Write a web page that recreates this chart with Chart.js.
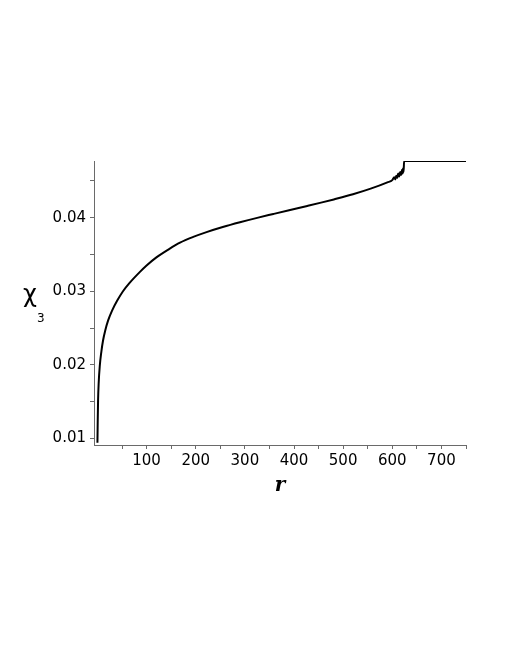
<!DOCTYPE html>
<html>
<head>
<meta charset="utf-8">
<script src="https://cdn.jsdelivr.net/npm/chart.js@4/dist/chart.umd.min.js"></script>
<style>
  html, body { margin: 0; padding: 0; background: #fff; }
  #wrap { width: 505px; height: 654px; position: relative; }
</style>
</head>
<body>
<div id="wrap"><canvas id="chart"></canvas></div>
<script>
// r values
const rValues = [0, 0.6, 1.3, 2.5, 4.7, 8, 11.4, 16, 21.6, 30, 40, 52, 65, 86, 100, 120, 145, 168, 195, 222, 255, 290, 325, 358, 390, 427, 455, 481, 520, 556, 590,
  600, 604, 606, 608, 610, 612, 614, 616, 618, 620, 621, 622, 623, 624, 750];
// chi_3 values
const chiValues = [0.0094, 0.0125, 0.0152, 0.0175, 0.0198, 0.0218, 0.0233, 0.0247, 0.0260, 0.0274, 0.0287, 0.0300, 0.0311, 0.0326, 0.0335, 0.0346, 0.0357, 0.0366, 0.03738, 0.03803, 0.03872, 0.03937, 0.03997, 0.0405, 0.04101, 0.04159, 0.04204, 0.04248, 0.04318, 0.04394, 0.0448,
  0.0451, 0.0455, 0.0452, 0.0457, 0.0454, 0.0460, 0.0456, 0.0462, 0.0458, 0.0465, 0.0460, 0.0467, 0.0462, 0.0477, 0.0477];

const xTicks = [50, 100, 150, 200, 250, 300, 350, 400, 450, 500, 550, 600, 650, 700, 750];
const yTicks = [0.01, 0.015, 0.02, 0.025, 0.03, 0.035, 0.04, 0.045];

const axisColor = "#6a6a6a";
const tickFont = { family: "DejaVu Sans", size: 15 };

// χ₃ label, drawn horizontally left of the y axis
const yLabel = {
  id: "yLabel",
  afterDraw(chart) {
    const ctx = chart.ctx;
    ctx.save();
    ctx.fillStyle = "#000";
    ctx.textBaseline = "alphabetic";
    ctx.font = "24px 'DejaVu Sans'";
    ctx.fillText("χ", 23, 302);
    ctx.font = "12px 'DejaVu Sans'";
    ctx.fillText("3", 37, 322);
    ctx.restore();
  },
};

new Chart(document.getElementById("chart"), {
  type: "line",
  data: {
    datasets: [{
      data: rValues.map((r, i) => ({ x: r, y: chiValues[i] })),
      borderColor: "#000",
      borderWidth: 2,
      pointRadius: 0,
      cubicInterpolationMode: "monotone",
      fill: false,
    }],
  },
  options: {
    responsive: true,
    maintainAspectRatio: false,
    animation: false,
    layout: { padding: { left: 34, right: 39, top: 161, bottom: 159 } },
    plugins: { legend: { display: false }, tooltip: { enabled: false } },
    scales: {
      x: {
        type: "linear",
        min: -7,
        max: 750,
        afterBuildTicks: (s) => { s.ticks = xTicks.map((v) => ({ value: v })); },
        afterFit: (s) => { s.height = 50; },
        ticks: {
          autoSkip: false,
          maxRotation: 0,
          padding: 3,
          color: "#000",
          font: tickFont,
          callback: (v) => (v % 100 === 0 ? String(v) : ""),
        },
        grid: { drawOnChartArea: false, tickLength: 4, color: axisColor },
        border: { color: axisColor, width: 1 },
        title: {
          display: true,
          text: "r",
          color: "#000",
          font: { family: "DejaVu Serif", style: "italic", weight: "bold", size: 20 },
          padding: { top: 0, bottom: -3 },
        },
      },
      y: {
        min: 0.0091,
        max: 0.0477,
        afterBuildTicks: (s) => { s.ticks = yTicks.map((v) => ({ value: v })); },
        afterFit: (s) => { s.width = 60; },
        ticks: {
          padding: 4,
          color: "#000",
          font: tickFont,
          callback: (v) => (Math.round(v * 1000) % 10 === 0 ? v.toFixed(2) : ""),
        },
        grid: { drawOnChartArea: false, tickLength: 4, color: axisColor },
        border: { color: axisColor, width: 1 },
      },
    },
  },
  plugins: [yLabel],
});
</script>
</body>
</html>
